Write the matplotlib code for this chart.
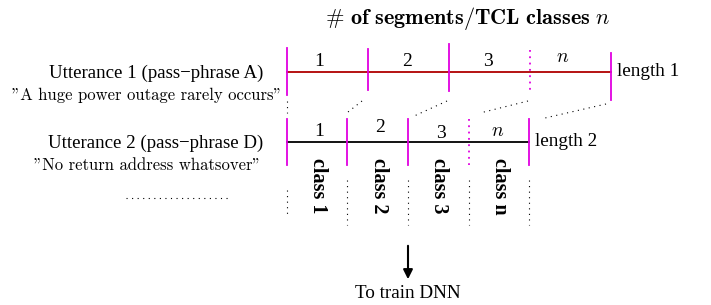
import matplotlib.pyplot as plt

plt.rcParams['mathtext.fontset'] = 'cm'

# --- content -------------------------------------------------------------
title = r'$\mathbf{\#\ of\ segments/TCL\ classes}\ n$'
utterances = ['Utterance 1 (pass\u2212phrase A)', 'Utterance 2 (pass\u2212phrase D)']
phrases = ['"A huge power outage rarely occurs"', '"No return address whatsover"']
seg_labels = ['1', '2', '3', r'$n$']
class_labels = ['class 1', 'class 2', 'class 3', 'class n']
length_labels = ['length 1', 'length 2']
bottom_label = 'To train DNN'

# --- layout (pixel coordinates, y down) ---------------------------------
W, H = 711, 305
row_y = [72, 142]
row_bounds = [[287, 368, 449, 530, 611], [287, 347, 408, 469, 529]]
row_color = ['#b00000', 'black']
tick_span = [[(48, 95), (49, 90), (44, 91), (50, 90), (53, 100)],
             [(119, 165), (119, 165), (119, 165), (119, 165), (119, 165)]]
seg_label_pos = [[(319, 62), (407, 62), (488, 62), (563, 58)],
                 [(319, 132), (380, 127), (441, 133), (498, 131)]]
magenta = '#e000e0'
dots = (0, (1, 4))

fig = plt.figure(figsize=(W / 100, H / 100), dpi=100)
ax = fig.add_axes([0, 0, 1, 1])
ax.set_xlim(0, W)
ax.set_ylim(H, 0)
ax.axis('off')

serif = 'Liberation Serif'

# title
ax.text(468, 18, title, ha='center', va='center', fontsize=16)

for r in range(2):
    xs = row_bounds[r]
    y = row_y[r]
    ax.plot([xs[0], xs[-1]], [y, y], color=row_color[r], lw=1.3)
    for i, x in enumerate(xs):
        y0, y1 = tick_span[r][i]
        ls = (0, (1, 2.5)) if i == 3 else '-'
        ax.plot([x, x], [y0, y1], color=magenta, lw=1.3, ls=ls)
    for lab, (lx, ly) in zip(seg_labels, seg_label_pos[r]):
        ax.text(lx, ly, lab, ha='center', va='center', fontsize=14,
                family=serif)
    ax.text(xs[-1] + 6, y, length_labels[r], ha='left', va='center',
            fontsize=13.8, family=serif)
    ax.text(156, y + 1, utterances[r], ha='center', va='center',
            fontsize=13.6, family=serif)
    ax.text(147, y + 23, phrases[r], ha='center', va='center',
            fontsize=12, family='cmr10')

# dotted continuation below first tick of row 1
ax.plot([287, 287], [101, 113], color='black', lw=0.8, ls=dots)

# dotted connectors between rows
connectors = [((362, 101), (348, 112)), ((447, 101), (412, 117)),
              ((528, 101), (480, 113)), ((606, 104), (545, 118))]
for (x0, y0), (x1, y1) in connectors:
    ax.plot([x0, x1], [y0, y1], color='black', lw=0.8, ls=dots)

# class labels
for i, lab in enumerate(class_labels):
    xc = (row_bounds[1][i] + row_bounds[1][i + 1]) / 2 + 1
    ax.text(xc, 186, lab, ha='center', va='center', rotation=-90,
            fontsize=14.5, fontweight='bold', family=serif)

# dotted lines below row 2
for i, x in enumerate(row_bounds[1]):
    y0, y1 = (190, 217) if i == 0 else (180, 225)
    ax.plot([x, x], [y0, y1], color='black', lw=0.8, ls=dots)

# left ellipsis
ax.plot([126, 229], [198, 198], color='black', lw=0.8, ls=dots)

# arrow and bottom label
ax.annotate('', xy=(408, 282), xytext=(408, 243),
            arrowprops=dict(arrowstyle='-|>', color='black', lw=1.5,
                            mutation_scale=14))
ax.text(408, 293, bottom_label, ha='center', va='center', fontsize=13.8,
        family=serif)

fig.savefig('out.png', dpi=100)
